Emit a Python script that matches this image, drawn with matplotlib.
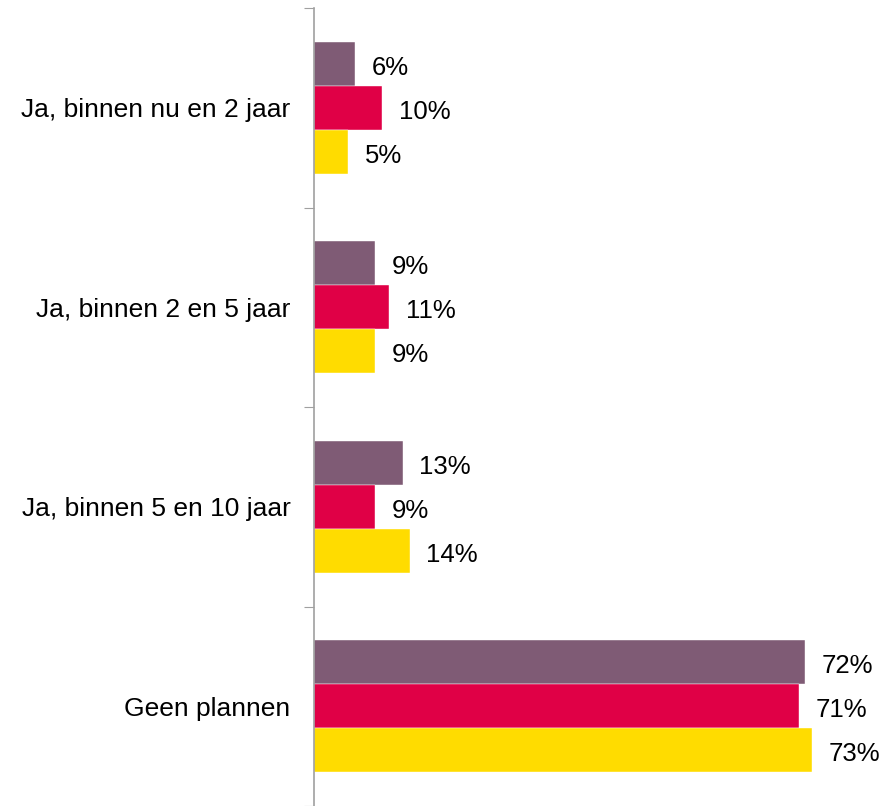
import numpy as np
from matplotlib import pyplot as plt

categories = ["Ja, binnen nu en 2 jaar", "Ja, binnen 2 en 5 jaar",
              "Ja, binnen 5 en 10 jaar", "Geen plannen"]
series_a = [6, 9, 13, 72]
series_b = [10, 11, 9, 71]
series_c = [5, 9, 14, 73]
colors = ["#7F5B75", "#E00046", "#FFDC00"]

plt.rcParams['font.family'] = ['Liberation Sans', 'DejaVu Sans']

fig = plt.figure(figsize=(8.95, 8.06), dpi=100)
# axes: x from 314px to 860px, y from 8px (top) to 806px
ax = fig.add_axes([314 / 895, 0, (860 - 314) / 895, (806 - 8) / 806])

y = np.arange(len(categories))
h = 0.22
for i, (vals, c) in enumerate(zip([series_a, series_b, series_c], colors)):
    pos = y + (i - 1) * h
    ax.barh(pos, vals, height=h, color=c, edgecolor="white", linewidth=0.3)
    for p, v in zip(pos, vals):
        ax.annotate(f"{v}%", (v, p), xytext=(12, -1), textcoords="offset points",
                    va="center_baseline", ha="left", fontsize=18.5)

ax.set_xlim(0, 80)
ax.set_ylim(len(categories) - 0.5, -0.5)

ax.set_yticks(np.arange(-0.5, len(categories) + 0.5, 1))
ax.set_yticklabels([])
ax.set_yticks(y, minor=True)
ax.set_yticklabels(categories, minor=True, fontsize=19)
ax.tick_params(axis="y", which="major", length=7, color="#A0A0A0", direction="out")
ax.tick_params(axis="y", which="minor", length=0, pad=17)
ax.set_xticks([])

for s in ["top", "right", "bottom"]:
    ax.spines[s].set_visible(False)
ax.spines["left"].set_color("#A0A0A0")
ax.spines["left"].set_linewidth(1.2)

fig.savefig("out.png", dpi=100)
